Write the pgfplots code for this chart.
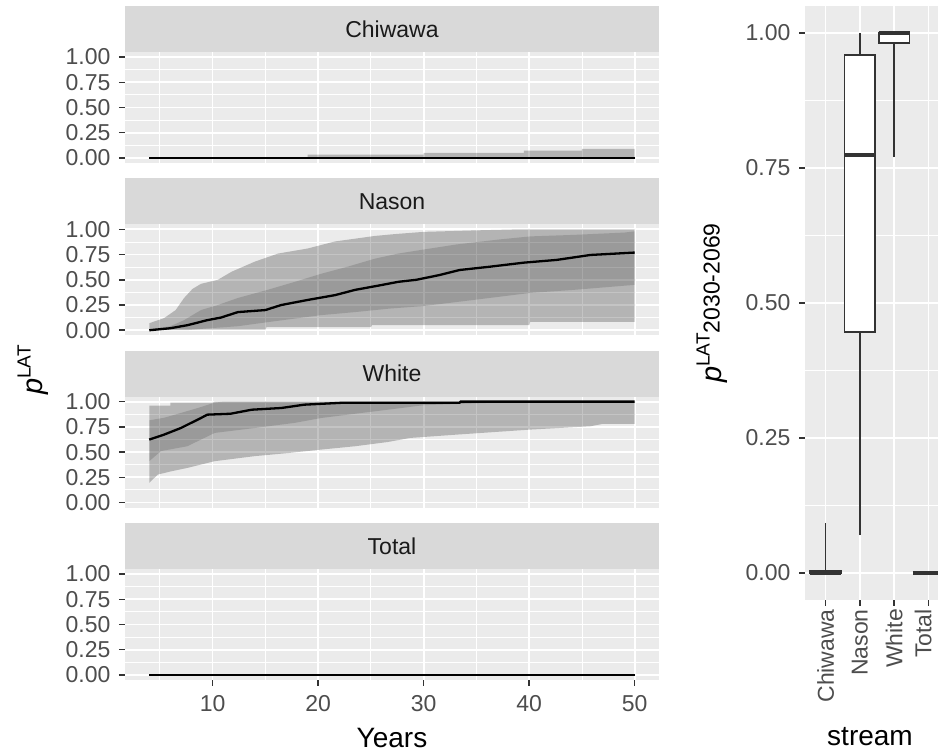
\documentclass[border=0pt]{standalone}
\usepackage{fontspec}
\setmainfont{Liberation Sans}
\usepackage{pgfplots}
\pgfplotsset{compat=1.18}
\definecolor{panelbg}{HTML}{EBEBEB}
\definecolor{stripbg}{HTML}{D9D9D9}
\definecolor{tickc}{HTML}{333333}
\definecolor{labc}{HTML}{4D4D4D}
\definecolor{stript}{HTML}{1A1A1A}

\pgfplotsset{
 ggbase/.style={
  scale only axis,
  axis background/.style={fill=panelbg},
  axis line style={draw=none},
  ymin=-0.05, ymax=1.05,
  ytick={0,0.25,0.5,0.75,1}, yticklabels={0.00,0.25,0.50,0.75,1.00},
  minor ytick={0.125,0.375,0.625,0.875},
  grid=both,
  major grid style={white, line width=1.8pt},
  minor grid style={white, line width=0.9pt},
  tick align=outside, major tick length=6pt, minor tick length=0pt,
  tick style={color=tickc, line width=1.5pt},
  tick pos=left,
  tick label style={font=\fontsize{23}{24}\selectfont, text=labc},
  y tick label style={xshift=-5pt},
 },
 facet/.style={
  ggbase, width=534pt, height=111pt,
  xmin=1.7, xmax=52.3,
  xtick={10,20,30,40,50}, xticklabels={10,20,30,40,50},
  minor xtick={5,15,25,35,45},
  x tick label style={yshift=-6pt},
 },
 notx/.style={xticklabels={}, xtick style={draw=none}},
 outerband/.style={fill=black, fill opacity=0.23, draw=none},
 innerband/.style={fill=black, fill opacity=0.14, draw=none},
 box/.style={fill=white, draw=tickc, line width=1.8pt},
 whisk/.style={draw=tickc, line width=1.8pt},
 med/.style={draw=tickc, line width=3.5pt},
}
\newcommand{\strip}[2]{%
 \fill[stripbg] (#1.north west) rectangle ([yshift=46pt]#1.north east);
 \node[font=\fontsize{23}{24}\selectfont, text=stript] at ([yshift=23pt]#1.north) {#2};}

\begin{document}
\begin{tikzpicture}
\path[use as bounding box] (0pt,0pt) rectangle (938pt,753pt);

% ---- Chiwawa
\begin{axis}[facet, notx, name=f1, at={(125pt,701pt)}, anchor=north west]
\addplot[outerband] coordinates {(4,0) (19,0) (19,0.033) (30,0.033) (30,0.05) (39.5,0.05) (39.5,0.073) (45,0.073) (45,0.09) (50,0.09) (50,0)} -- cycle;
\addplot[black, line width=2.5pt] coordinates {(4,0) (50,0)};
\end{axis}
\strip{f1}{Chiwawa}

% ---- Nason
\begin{axis}[facet, notx, name=f2, at={(125pt,528.7pt)}, anchor=north west]
\addplot[outerband] coordinates {(4,0.07) (5.4,0.12) (6.5,0.2) (7.3,0.32) (8.1,0.41) (8.9,0.46) (10.5,0.5) (11.8,0.58) (14,0.68) (16.2,0.76) (19,0.81) (21.6,0.88) (25.4,0.935) (27.5,0.955) (30,0.975) (35,0.99) (39,1) (50,1)
 (50,0.083) (40.1,0.083) (40,0.05) (25.1,0.05) (25,0.03) (15.1,0.03) (15,0.005) (4,0.005)} -- cycle;
\addplot[innerband] coordinates {(4,0.01) (6,0.04) (7.3,0.1) (8.9,0.2) (10.5,0.25) (12.4,0.32) (15.2,0.4) (17.8,0.48) (20.3,0.56) (22.8,0.63) (25.4,0.71) (27.6,0.76) (30,0.8) (33.1,0.85) (37.2,0.9) (40.1,0.93) (44.2,0.945) (49,0.968) (50,0.98)
 (50,0.45) (44.2,0.4) (40.1,0.37) (34.7,0.3) (30,0.24) (26.8,0.215) (23.5,0.18) (20.3,0.15) (17.8,0.116) (15.2,0.08) (12.4,0.04) (9.2,0.016) (7.5,0) (4,0)} -- cycle;
\addplot[black, line width=2.3pt] coordinates {(4,0) (5,0.01) (6,0.02) (7.6,0.05) (9.5,0.1) (10.8,0.126) (12.4,0.18) (15,0.2) (16.5,0.25) (19,0.3) (21.6,0.348) (23.5,0.4) (26,0.448) (27.6,0.48) (29.3,0.5) (31.5,0.547) (33.4,0.597) (36.3,0.63) (39.5,0.67) (42.6,0.697) (45.8,0.746) (50,0.77)};
\end{axis}
\strip{f2}{Nason}

% ---- White
\begin{axis}[facet, notx, name=f3, at={(125pt,356.4pt)}, anchor=north west]
\addplot[outerband] coordinates {(4,0.96) (6,0.96) (6.01,0.99) (10,0.99) (10.2,1) (50,1)
 (50,0.78) (47,0.78) (45.8,0.756) (40.1,0.723) (33.1,0.673) (28.7,0.64) (26.6,0.6) (23.5,0.558) (20.3,0.525) (17.1,0.49) (14,0.46) (10.2,0.41) (7.6,0.343) (6.1,0.31) (4.8,0.277) (4,0.195)} -- cycle;
\addplot[innerband] coordinates {(4,0.815) (5.4,0.84) (7,0.888) (8.6,0.937) (10.2,0.99) (11,1) (50,1)
 (41,1) (40,0.995) (36,0.987) (30,0.965) (26.6,0.92) (23.5,0.88) (20.3,0.838) (17.8,0.79) (14,0.739) (10.2,0.69) (7.6,0.558) (5.1,0.51) (4,0.41)} -- cycle;
\addplot[black, line width=2.3pt] coordinates {(4,0.624) (5.4,0.673) (7,0.739) (8.9,0.838) (9.5,0.871) (11.7,0.88) (13.7,0.92) (16.5,0.937) (18.7,0.97) (22.5,0.99) (33.4,0.99) (33.5,1) (50,1)};
\end{axis}
\strip{f3}{White}

% ---- Total
\begin{axis}[facet, name=f4, at={(125pt,184pt)}, anchor=north west]
\addplot[black, line width=2.5pt] coordinates {(4,0) (50,0)};
\end{axis}
\strip{f4}{Total}

\node[font=\fontsize{28}{30}\selectfont] at (392pt,15pt) {Years};
\node[rotate=90, anchor=center] at (33pt,383pt) {{\fontsize{29}{30}\selectfont\itshape p}\raisebox{12pt}{\fontsize{19}{20}\selectfont LAT}};

% ---- right boxplot panel
\begin{axis}[ggbase, name=bx, at={(805pt,747pt)}, anchor=north west,
  width=133pt, height=594pt, xmin=0.4, xmax=4.28,
  xtick={1,2,3,4}, xticklabels={Chiwawa,Nason,White,\raisebox{5pt}[16pt][0pt]{Total}},
  x tick label style={rotate=90, anchor=east, inner ysep=0pt, inner xsep=3pt},
  xminorgrids=false,
]
% Chiwawa
\addplot[whisk] coordinates {(1,0.004) (1,0.092)};
\addplot[box] coordinates {(0.55,0) (1.45,0) (1.45,0.004) (0.55,0.004)} -- cycle;
\addplot[med] coordinates {(0.55,0) (1.45,0)};
% Nason
\addplot[whisk] coordinates {(2,0.07) (2,0.447)};
\addplot[whisk] coordinates {(2,0.959) (2,1.0)};
\addplot[box] coordinates {(1.55,0.447) (2.45,0.447) (2.45,0.959) (1.55,0.959)} -- cycle;
\addplot[med] coordinates {(1.55,0.774) (2.45,0.774)};
% White
\addplot[whisk] coordinates {(3,0.77) (3,0.982)};
\addplot[box] coordinates {(2.55,0.982) (3.45,0.982) (3.45,1.0) (2.55,1.0)} -- cycle;
\addplot[med] coordinates {(2.55,1.0) (3.45,1.0)};
% Total
\addplot[med] coordinates {(3.55,0) (4.45,0)};
\end{axis}
\node[font=\fontsize{28}{30}\selectfont] at (870pt,16pt) {stream};
\node[rotate=90, anchor=center] at (712pt,450pt) {{\fontsize{29}{30}\selectfont\itshape p}\raisebox{12pt}{\fontsize{19}{20}\selectfont LAT}\raisebox{2pt}{\fontsize{23}{24}\selectfont 2030-2069}};
\end{tikzpicture}
\end{document}
